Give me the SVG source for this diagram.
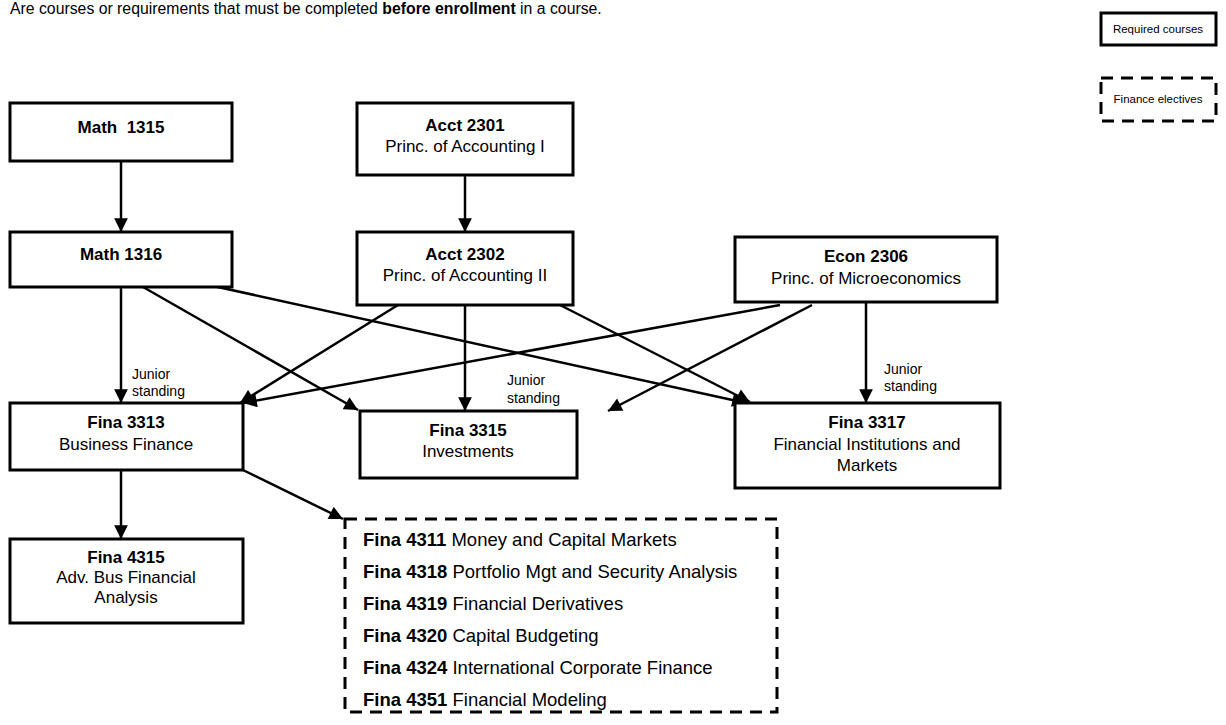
<svg xmlns="http://www.w3.org/2000/svg" width="1226" height="725" viewBox="0 0 1226 725">
<style>
text{font-family:"Liberation Sans",Arial,sans-serif;fill:#000}
.b{font-weight:bold}
.n{font-size:17px;text-anchor:middle}
.box{fill:#fff;stroke:#000;stroke-width:3}
.dash{fill:#fff;stroke:#000;stroke-width:3;stroke-dasharray:12 8}
.c{fill:none;stroke:#000;stroke-width:2.5;marker-end:url(#ah)}
.lbl{font-size:14px}
.el{font-size:18.5px}
.lg{font-size:11.5px;text-anchor:middle}
</style>
<defs>
<marker id="ah" viewBox="0 0 10 10" refX="10" refY="5" markerWidth="6" markerHeight="5.5" orient="auto" markerUnits="strokeWidth">
<path d="M0,0 L10,5 L0,10 z" fill="#000"/>
</marker>
</defs>
<rect width="1226" height="725" fill="#fff"/>
<text x="10" y="14" font-size="15.8">Are courses or requirements that must be completed <tspan class="b">before enrollment</tspan> in a course.</text>
<g id="legend-required"><rect class="box" x="1101" y="13" width="115" height="32"/><text class="lg" x="1158" y="33">Required courses</text></g>
<g id="legend-electives"><rect class="dash" x="1101" y="78" width="115" height="43"/><text class="lg" x="1158" y="103">Finance electives</text></g>
<g id="connectors">
<path class="c" d="M121,161 L121,232"/>
<path class="c" d="M465,175 L465,232"/>
<path class="c" d="M121,287 L121,403"/>
<path class="c" d="M143,287 L358,410"/>
<path class="c" d="M195,282 L746,403"/>
<path class="c" d="M398,305 L240,403"/>
<path class="c" d="M465,305 L465,411"/>
<path class="c" d="M560,305 L750,402"/>
<path class="c" d="M780,305 L243,403"/>
<path class="c" d="M812,305 L608,411"/>
<path class="c" d="M866,302 L866,403"/>
<path class="c" d="M121,470 L121,539"/>
<path class="c" d="M243,470 L343,519"/>
<text class="lbl" x="132" y="379">Junior</text><text class="lbl" x="132" y="396">standing</text>
<text class="lbl" x="507" y="385">Junior</text><text class="lbl" x="507" y="403">standing</text>
<text class="lbl" x="884" y="374">Junior</text><text class="lbl" x="884" y="391">standing</text>
</g>
<g id="math1315"><rect class="box" x="10" y="103" width="222" height="58"/><text class="n b" x="121" y="133" xml:space="preserve">Math  1315</text></g>
<g id="acct2301"><rect class="box" x="357" y="103" width="216" height="72"/><text class="n b" x="465" y="131">Acct 2301</text><text class="n" x="465" y="152">Princ. of Accounting I</text></g>
<g id="math1316"><rect class="box" x="10" y="232" width="222" height="55"/><text class="n b" x="121" y="260">Math 1316</text></g>
<g id="acct2302"><rect class="box" x="357" y="232" width="216" height="73"/><text class="n b" x="465" y="260">Acct 2302</text><text class="n" x="465" y="281">Princ. of Accounting II</text></g>
<g id="econ2306"><rect class="box" x="735" y="237" width="262" height="65"/><text class="n b" x="866" y="262">Econ 2306</text><text class="n" x="866" y="284">Princ. of Microeconomics</text></g>
<g id="fina3313"><rect class="box" x="10" y="403" width="233" height="67"/><text class="n b" x="126" y="428">Fina 3313</text><text class="n" x="126" y="450">Business Finance</text></g>
<g id="fina3315"><rect class="box" x="360" y="411" width="217" height="67"/><text class="n b" x="468" y="436">Fina 3315</text><text class="n" x="468" y="457">Investments</text></g>
<g id="fina3317"><rect class="box" x="735" y="403" width="265" height="85"/><text class="n b" x="867" y="428">Fina 3317</text><text class="n" x="867" y="450">Financial Institutions and</text><text class="n" x="867" y="471">Markets</text></g>
<g id="fina4315"><rect class="box" x="10" y="539" width="233" height="84"/><text class="n b" x="126" y="563">Fina 4315</text><text class="n" x="126" y="583">Adv. Bus Financial</text><text class="n" x="126" y="603">Analysis</text></g>
<g id="electives"><rect class="dash" x="345" y="519" width="432" height="193"/>
<text class="el" x="363" y="546"><tspan class="b">Fina 4311</tspan> Money and Capital Markets</text>
<text class="el" x="363" y="578"><tspan class="b">Fina 4318</tspan> Portfolio Mgt and Security Analysis</text>
<text class="el" x="363" y="610"><tspan class="b">Fina 4319</tspan> Financial Derivatives</text>
<text class="el" x="363" y="642"><tspan class="b">Fina 4320</tspan> Capital Budgeting</text>
<text class="el" x="363" y="674"><tspan class="b">Fina 4324</tspan> International Corporate Finance</text>
<text class="el" x="363" y="706"><tspan class="b">Fina 4351</tspan> Financial Modeling</text>
</g>
</svg>
